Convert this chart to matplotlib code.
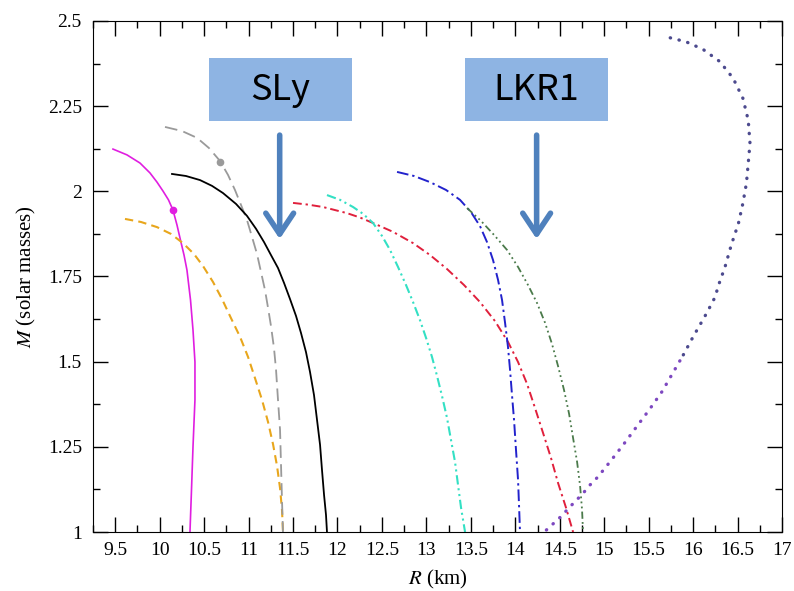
import matplotlib
matplotlib.use('Agg')
import matplotlib.pyplot as plt
from matplotlib.patches import Rectangle
from matplotlib.ticker import MultipleLocator, FuncFormatter

plt.rcParams['font.family'] = 'Liberation Serif'
plt.rcParams['mathtext.fontset'] = 'stix'

# mass-radius curves (R in km, M in solar masses)
r_magenta = [9.475, 9.632, 9.779, 9.891, 9.970, 10.037, 10.099, 10.150, 10.195, 10.234, 10.274,
             10.307, 10.347, 10.375, 10.397, 10.397, 10.375, 10.358, 10.341]
m_magenta = [2.124, 2.107, 2.083, 2.054, 2.027, 2.001, 1.975, 1.945, 1.901, 1.857, 1.813,
             1.769, 1.681, 1.593, 1.499, 1.388, 1.250, 1.123, 1.000]

r_orange = [9.610, 9.790, 9.970, 10.127, 10.262, 10.386, 10.487, 10.600, 10.701, 10.802, 10.904,
            10.994, 11.072, 11.151, 11.219, 11.275, 11.320, 11.354, 11.376, 11.387]
m_orange = [1.919, 1.910, 1.895, 1.875, 1.848, 1.816, 1.781, 1.734, 1.684, 1.628, 1.573,
            1.514, 1.452, 1.388, 1.323, 1.258, 1.194, 1.129, 1.065, 1.000]

r_gray = [10.060, 10.251, 10.420, 10.555, 10.679, 10.769, 10.847, 10.915, 10.982, 11.039, 11.095,
          11.140, 11.185, 11.219, 11.252, 11.286, 11.309, 11.331, 11.354, 11.365, 11.376, 11.387]
m_gray = [2.189, 2.177, 2.157, 2.127, 2.089, 2.048, 2.004, 1.960, 1.916, 1.866, 1.816,
          1.763, 1.710, 1.658, 1.605, 1.540, 1.476, 1.388, 1.300, 1.197, 1.094, 1.000]

r_black = [10.139, 10.296, 10.454, 10.589, 10.712, 10.859, 10.982, 11.084, 11.174, 11.252, 11.331,
           11.399, 11.466, 11.534, 11.590, 11.646, 11.691, 11.736, 11.770, 11.804, 11.826, 11.849,
           11.871, 11.882]
m_black = [2.051, 2.045, 2.033, 2.016, 1.995, 1.963, 1.928, 1.890, 1.851, 1.813, 1.775,
           1.731, 1.684, 1.634, 1.584, 1.528, 1.470, 1.402, 1.329, 1.256, 1.182, 1.109,
           1.050, 1.000]

r_red = [11.500, 11.669, 11.837, 11.972, 12.107, 12.254, 12.400, 12.625, 12.850, 13.041, 13.232,
         13.423, 13.603, 13.772, 13.918, 14.031, 14.132, 14.222, 14.312, 14.402, 14.481, 14.571,
         14.650]
m_red = [1.966, 1.961, 1.954, 1.945, 1.936, 1.923, 1.907, 1.881, 1.848, 1.813, 1.772,
         1.725, 1.675, 1.619, 1.558, 1.499, 1.435, 1.364, 1.291, 1.217, 1.144, 1.071, 1.000]

r_cyan = [11.882, 12.029, 12.175, 12.287, 12.400, 12.501, 12.591, 12.681, 12.771, 12.850, 12.928,
          12.996, 13.063, 13.120, 13.176, 13.232, 13.277, 13.322, 13.356, 13.390, 13.435]
m_cyan = [1.989, 1.975, 1.954, 1.934, 1.907, 1.869, 1.828, 1.778, 1.725, 1.675, 1.622,
          1.570, 1.514, 1.458, 1.399, 1.335, 1.270, 1.206, 1.138, 1.071, 1.000]

r_blue = [12.670, 12.861, 13.041, 13.221, 13.378, 13.502, 13.603, 13.682, 13.750, 13.806, 13.851,
          13.885, 13.918, 13.941, 13.963, 13.986, 14.008, 14.031, 14.042, 14.053]
m_blue = [2.057, 2.045, 2.027, 2.004, 1.975, 1.939, 1.898, 1.851, 1.798, 1.740, 1.681,
          1.614, 1.543, 1.476, 1.402, 1.329, 1.241, 1.153, 1.079, 1.000]

r_green = [13.457, 13.615, 13.761, 13.907, 14.031, 14.143, 14.245, 14.335, 14.413, 14.481, 14.548,
           14.605, 14.650, 14.695, 14.729, 14.751, 14.762]
m_green = [1.951, 1.913, 1.872, 1.828, 1.778, 1.725, 1.672, 1.614, 1.552, 1.487, 1.417,
           1.347, 1.276, 1.206, 1.135, 1.065, 1.000]

r_purple = [14.35, 14.45, 14.52, 14.60, 14.69, 14.77, 14.84, 14.93, 15.08, 15.22, 15.37, 15.51,
            15.65, 15.77, 15.89, 16.00, 16.13, 16.19, 16.25, 16.28, 16.36, 16.43, 16.51, 16.56,
            16.60, 16.62, 16.64, 16.62, 16.56, 16.45, 16.30, 16.11, 15.92, 15.69]
m_purple = [1.006, 1.03, 1.047, 1.07, 1.094, 1.116, 1.138, 1.162, 1.211, 1.258, 1.311, 1.36,
            1.412, 1.466, 1.52, 1.573, 1.632, 1.661, 1.691, 1.72, 1.779, 1.843, 1.906, 1.965,
            2.024, 2.082, 2.141, 2.209, 2.273, 2.332, 2.381, 2.417, 2.439, 2.454]

# single marked points on two of the curves
dot_magenta = (10.15, 1.945)
dot_gray = (10.679, 2.087)

# text boxes and arrows
box_labels = ['SLy', 'LKR1']
box_left = [10.555, 13.43]
arrow_x = [11.35, 14.24]

fig = plt.figure(figsize=(7.94, 5.91), dpi=100)
ax = fig.add_axes([0.1171, 0.0998, 0.8678, 0.8647])

ax.plot(r_magenta, m_magenta, color='#e01ee0', lw=1.2)
ax.plot(r_orange, m_orange, color='#e8a61c', lw=1.5, ls=(0, (4, 2.5)))
ax.plot(r_gray, m_gray, color='#9a9a9a', lw=1.3, ls=(0, (7, 3.5)))
ax.plot(r_black, m_black, color='black', lw=1.3)
ax.plot(r_red, m_red, color='#e0203c', lw=1.4, ls=(0, (4.5, 2, 1.2, 2)))
ax.plot(r_cyan, m_cyan, color='#33e0c4', lw=1.5, ls=(0, (4.5, 1.8, 1, 1.8, 1, 1.8)))
ax.plot(r_blue, m_blue, color='#2222cc', lw=1.4, ls=(0, (6, 2, 1.2, 2)))
ax.plot(r_green, m_green, color='#4a7a4a', lw=1.3, ls=(0, (4, 1.8, 1, 1.8, 1, 1.8, 1, 1.8)))

# dotted curve shades from violet at the bottom to slate blue at the top
split = 14
ax.plot(r_purple[:split + 1], m_purple[:split + 1], color='#7d48c0', lw=2.4,
        ls=(0, (0.1, 2.6)), dash_capstyle='round')
ax.plot(r_purple[split:], m_purple[split:], color='#4c4a8e', lw=2.4,
        ls=(0, (0.1, 2.6)), dash_capstyle='round')

ax.plot(*dot_magenta, 'o', color='#e01ee0', ms=4.5)
ax.plot(*dot_gray, 'o', color='#9a9a9a', ms=4.5)

ax.set_xlim(9.25, 17)
ax.set_ylim(1, 2.5)
ax.xaxis.set_major_locator(MultipleLocator(0.5))
ax.xaxis.set_minor_locator(MultipleLocator(0.25))
ax.yaxis.set_major_locator(MultipleLocator(0.25))
ax.yaxis.set_minor_locator(MultipleLocator(0.125))
fmt = FuncFormatter(lambda v, p: '%g' % v)
ax.xaxis.set_major_formatter(fmt)
ax.yaxis.set_major_formatter(fmt)
ax.tick_params(which='both', direction='in', top=True, right=True, width=1.0, labelsize=14)
ax.tick_params(which='major', length=10.5)
ax.tick_params(which='minor', length=5)
ax.tick_params(axis='x', pad=7)
ax.tick_params(axis='y', pad=8)

ax.set_xlabel('$R$ (km)', fontsize=15)
ax.set_ylabel('$M$ (solar masses)', fontsize=15)
ax.xaxis.set_label_coords(0.5, -0.07)
ax.yaxis.set_label_coords(-0.080, 0.5)

for lab, x0, xa in zip(box_labels, box_left, arrow_x):
    ax.add_patch(Rectangle((x0, 2.206), 1.61, 0.185, facecolor='#8eb4e3',
                           edgecolor='none', zorder=5))
    ax.text(x0 + 0.805, 2.298, lab, fontsize=26, weight='light',
            family=['Noto Sans CJK SC', 'DejaVu Sans'],
            ha='center', va='center', zorder=6)
    ax.annotate('', xy=(xa, 1.86), xytext=(xa, 2.165),
                arrowprops=dict(arrowstyle='->,head_length=0.6,head_width=0.4',
                                color='#4f81bd', lw=4, mutation_scale=25,
                                shrinkA=0, shrinkB=0))

fig.savefig('out.png', dpi=100)
